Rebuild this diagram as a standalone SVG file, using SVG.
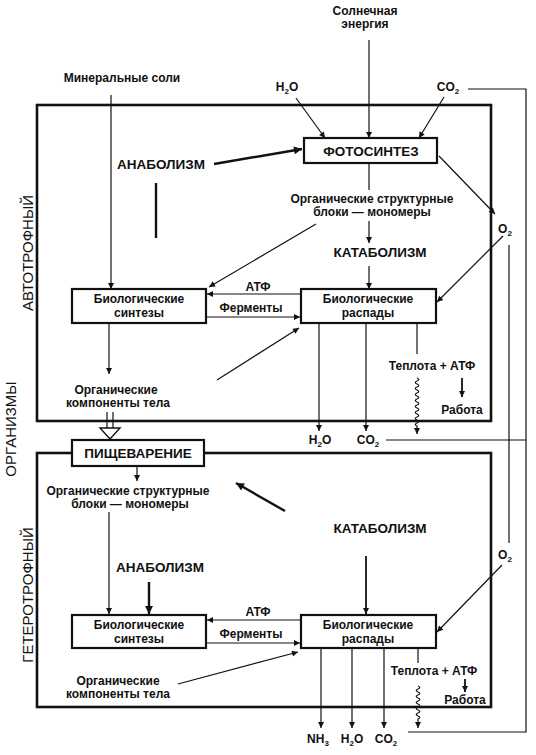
<svg xmlns="http://www.w3.org/2000/svg" width="536" height="755" viewBox="0 0 536 755">
<defs>
<style>
text{font-family:"Liberation Sans",Arial,sans-serif;font-weight:bold;font-size:12px;fill:#111;text-anchor:middle}
.cap{font-size:13.5px}
.side{font-weight:normal;font-size:15px}
.sub{font-size:8px}
.ln{stroke:#111;stroke-width:1.2;fill:none}
.th{stroke:#111;stroke-width:2.4;fill:none}
.box{stroke:#111;stroke-width:2.2;fill:#fff}
.frame{stroke:#111;stroke-width:2.6;fill:none}
</style>
<marker id="a" viewBox="0 0 10 10" refX="10" refY="5" markerWidth="7" markerHeight="6" markerUnits="userSpaceOnUse" orient="auto"><path d="M0,0 L10,5 L0,10 z" fill="#111"/></marker>
<marker id="A" viewBox="0 0 10 10" refX="10" refY="5" markerWidth="10" markerHeight="8" markerUnits="userSpaceOnUse" orient="auto"><path d="M0,0 L10,5 L0,10 z" fill="#111"/></marker>
</defs>
<rect width="536" height="755" fill="#fff"/>

<g id="frames">
<rect id="autotroph-frame" class="frame" x="37" y="105" width="454" height="316"/>
<rect id="heterotroph-frame" class="frame" x="37" y="453" width="454" height="254"/>
</g>

<g id="connectors">
<!-- top section -->
<line class="ln" x1="369" y1="40" x2="369" y2="138" marker-end="url(#a)"/>
<line class="ln" x1="111" y1="95" x2="111" y2="289" marker-end="url(#a)"/>
<line class="ln" x1="296" y1="98" x2="325" y2="138" marker-end="url(#a)"/>
<line class="ln" x1="444" y1="97" x2="419" y2="138" marker-end="url(#a)"/>
<line class="th" x1="214" y1="164" x2="302" y2="149" marker-end="url(#A)"/>
<line class="th" x1="156" y1="183" x2="156" y2="238"/>
<line class="ln" x1="369" y1="163" x2="369" y2="190"/>
<line class="ln" x1="369" y1="221" x2="369" y2="243" marker-end="url(#a)"/>
<line class="ln" x1="369" y1="266" x2="369" y2="289" marker-end="url(#a)"/>
<line class="ln" x1="316" y1="224" x2="209" y2="287" marker-end="url(#a)"/>
<line class="ln" x1="439" y1="156" x2="495" y2="214" marker-end="url(#a)"/>
<line class="ln" x1="503" y1="236" x2="437" y2="302" marker-end="url(#a)"/>
<line class="ln" x1="509" y1="245" x2="509" y2="543"/>
<line class="ln" x1="301" y1="294" x2="207" y2="294" marker-end="url(#a)"/>
<line class="ln" x1="206" y1="317" x2="300" y2="317" marker-end="url(#a)"/>
<line class="ln" x1="217" y1="380" x2="299" y2="328" marker-end="url(#a)"/>
<line class="ln" x1="109" y1="323" x2="109" y2="374" marker-end="url(#a)"/>
<line class="ln" x1="319" y1="323" x2="319" y2="431" marker-end="url(#a)"/>
<line class="ln" x1="366" y1="323" x2="366" y2="431" marker-end="url(#a)"/>
<line class="ln" x1="417" y1="323" x2="417" y2="354"/>
<line class="th" style="stroke-width:1.8" x1="462" y1="378" x2="462" y2="397" marker-end="url(#a)"/>
<path class="ln" d="M417,378 q3.5,1.5 0,3 t0,3 t0,3 t0,3 t0,3 t0,3 t0,3 t0,3 t0,3 t0,3 t0,3 t0,3 t0,3 t0,3 t0,3 t0,3 v8" marker-end="url(#a)"/>
<line class="ln" x1="386" y1="440" x2="526" y2="440"/>
<path class="ln" d="M468,89 H526 V732 H408"/>
<!-- digestion input -->
<path class="ln" d="M107,412 V428 M113,412 V428"/>
<path d="M100,428 H120 L110,439 z" fill="#fff" stroke="#111" stroke-width="1.4"/>
<!-- bottom section -->
<line class="ln" x1="137" y1="467" x2="137" y2="481" marker-end="url(#a)"/>
<line class="ln" x1="109" y1="512" x2="109" y2="614" marker-end="url(#a)"/>
<line class="th" x1="149" y1="582" x2="149" y2="614" marker-end="url(#A)"/>
<line class="th" x1="285" y1="511" x2="236" y2="483" marker-end="url(#A)"/>
<line class="th" style="stroke-width:1.8" x1="366" y1="556" x2="366" y2="614" marker-end="url(#a)"/>
<line class="ln" x1="502" y1="565" x2="437" y2="632" marker-end="url(#a)"/>
<line class="ln" x1="301" y1="620" x2="207" y2="620" marker-end="url(#a)"/>
<line class="ln" x1="206" y1="643" x2="300" y2="643" marker-end="url(#a)"/>
<line class="ln" x1="178" y1="684" x2="298" y2="652" marker-end="url(#a)"/>
<line class="ln" x1="321" y1="648" x2="321" y2="728" marker-end="url(#a)"/>
<line class="ln" x1="352" y1="648" x2="352" y2="728" marker-end="url(#a)"/>
<line class="ln" x1="384" y1="648" x2="384" y2="728" marker-end="url(#a)"/>
<line class="ln" x1="418" y1="648" x2="418" y2="663"/>
<line class="th" style="stroke-width:1.8" x1="465" y1="679" x2="465" y2="692" marker-end="url(#a)"/>
<path class="ln" d="M418,686 q3.5,1.5 0,3 t0,3 t0,3 t0,3 t0,3 t0,3 t0,3 t0,3 t0,3 t0,3 t0,3 v9" marker-end="url(#a)"/>
</g>

<g id="fotosintez"><rect class="box" x="304" y="138" width="133" height="25"/><text class="cap" x="371" y="156">ФОТОСИНТЕЗ</text></g>
<g id="sintezy-top"><rect class="box" x="72" y="289" width="134" height="34"/><text x="139" y="303">Биологические</text><text x="139" y="317">синтезы</text></g>
<g id="raspady-top"><rect class="box" x="301" y="289" width="135" height="34"/><text x="368" y="303">Биологические</text><text x="368" y="317">распады</text></g>
<g id="pishchevarenie"><rect class="box" x="72" y="440" width="132" height="26"/><text class="cap" x="138" y="458">ПИЩЕВАРЕНИЕ</text></g>
<g id="sintezy-bottom"><rect class="box" x="72" y="615" width="134" height="33"/><text x="139" y="629">Биологические</text><text x="139" y="643">синтезы</text></g>
<g id="raspady-bottom"><rect class="box" x="301" y="615" width="135" height="33"/><text x="368" y="629">Биологические</text><text x="368" y="643">распады</text></g>

<g id="labels">
<text x="365" y="15">Солнечная</text>
<text x="365" y="28">энергия</text>
<text x="122" y="82">Минеральные соли</text>
<text x="287" y="91">H<tspan class="sub" dy="3">2</tspan><tspan dy="-3">O</tspan></text>
<text x="448" y="91">CO<tspan class="sub" dy="3">2</tspan></text>
<text class="cap" x="161" y="169">АНАБОЛИЗМ</text>
<text x="372" y="203">Органические структурные</text>
<text x="372" y="216">блоки — мономеры</text>
<text class="cap" x="380" y="257">КАТАБОЛИЗМ</text>
<text x="505" y="233">O<tspan class="sub" dy="3">2</tspan></text>
<text x="258" y="291">АТФ</text>
<text x="251" y="312">Ферменты</text>
<text x="432" y="370">Теплота + АТФ</text>
<text x="462" y="414">Работа</text>
<text x="116" y="394">Органические</text>
<text x="118" y="407">компоненты тела</text>
<text x="320" y="444">H<tspan class="sub" dy="3">2</tspan><tspan dy="-3">O</tspan></text>
<text x="368" y="444">CO<tspan class="sub" dy="3">2</tspan></text>
<text x="128" y="495">Органические структурные</text>
<text x="130" y="508">блоки — мономеры</text>
<text class="cap" x="380" y="533">КАТАБОЛИЗМ</text>
<text x="505" y="559">O<tspan class="sub" dy="3">2</tspan></text>
<text class="cap" x="160" y="572">АНАБОЛИЗМ</text>
<text x="258" y="616">АТФ</text>
<text x="251" y="638">Ферменты</text>
<text x="434" y="675">Теплота + АТФ</text>
<text x="465" y="704">Работа</text>
<text x="118" y="685">Органические</text>
<text x="118" y="698">компоненты тела</text>
<text x="318" y="743">NH<tspan class="sub" dy="3">3</tspan></text>
<text x="352" y="743">H<tspan class="sub" dy="3">2</tspan><tspan dy="-3">O</tspan></text>
<text x="386" y="743">CO<tspan class="sub" dy="3">2</tspan></text>
<text class="side" transform="translate(33,253) rotate(-90)">АВТОТРОФНЫЙ</text>
<text class="side" transform="translate(16,429) rotate(-90)">ОРГАНИЗМЫ</text>
<text class="side" transform="translate(33,595) rotate(-90)">ГЕТЕРОТРОФНЫЙ</text>
</g>
</svg>
